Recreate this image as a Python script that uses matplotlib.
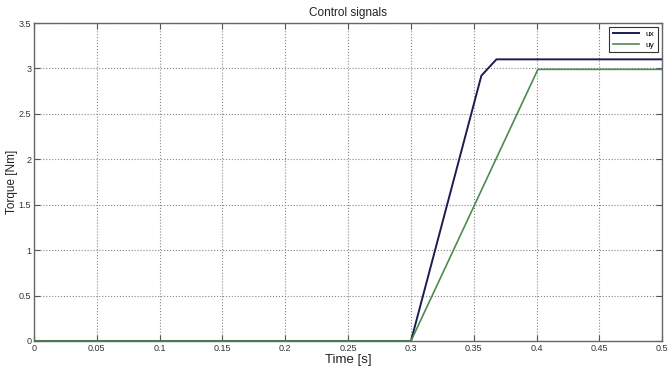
import matplotlib
matplotlib.use("Agg")
import matplotlib.pyplot as plt

# ---- DATA ----
t_ux = [0.0, 0.30, 0.356, 0.368, 0.50]
ux = [0.0, 0.0, 2.92, 3.10, 3.10]

t_uy = [0.0, 0.30, 0.401, 0.50]
uy = [0.0, 0.0, 2.99, 2.99]

x_ticks = [0, 0.05, 0.1, 0.15, 0.2, 0.25, 0.3, 0.35, 0.4, 0.45, 0.5]
x_labels = ["0", "0.05", "0.1", "0.15", "0.2", "0.25", "0.3", "0.35", "0.4", "0.45", "0.5"]
y_ticks = [0, 0.5, 1, 1.5, 2, 2.5, 3, 3.5]
y_labels = ["0", "0.5", "1", "1.5", "2", "2.5", "3", "3.5"]

plt.rcParams["font.family"] = ["Liberation Sans", "DejaVu Sans"]

# ---- CHART ----
fig = plt.figure(figsize=(6.72, 3.71), dpi=100)
ax = fig.add_axes([0.0506, 0.081, 0.935, 0.857])

ax.plot(t_ux, ux, color="#1c1c50", linewidth=1.4, label="ux")
ax.plot(t_uy, uy, color="#4f8a4f", linewidth=1.2, label="uy")

ax.set_xlim(0, 0.5)
ax.set_ylim(0, 3.5)
ax.set_xticks(x_ticks)
ax.set_xticklabels(x_labels)
ax.set_yticks(y_ticks)
ax.set_yticklabels(y_labels)
ax.tick_params(direction="in", top=True, right=True, labelsize=6.5, length=4,
               color="#555555", labelcolor="#333333", pad=2)
ax.grid(True, linestyle=":", color="#888888", linewidth=0.8)
for s in ax.spines.values():
    s.set_color("#666666")
    s.set_linewidth(1.0)

ax.set_title("Control signals", fontsize=8.5, pad=5, color="#222222")
ax.set_xlabel("Time [s]", fontsize=9.5, labelpad=1, color="#222222")
ax.set_ylabel("Torque [Nm]", fontsize=8.5, color="#222222")
ax.yaxis.set_label_coords(-0.026, 0.5)

leg = ax.legend(loc="upper right", fontsize=6, handlelength=3.2, borderpad=0.4,
                labelspacing=0.3, fancybox=False, framealpha=1)
leg.get_frame().set_edgecolor("#333333")
leg.get_frame().set_linewidth(0.8)

plt.savefig("out.png", dpi=100)
